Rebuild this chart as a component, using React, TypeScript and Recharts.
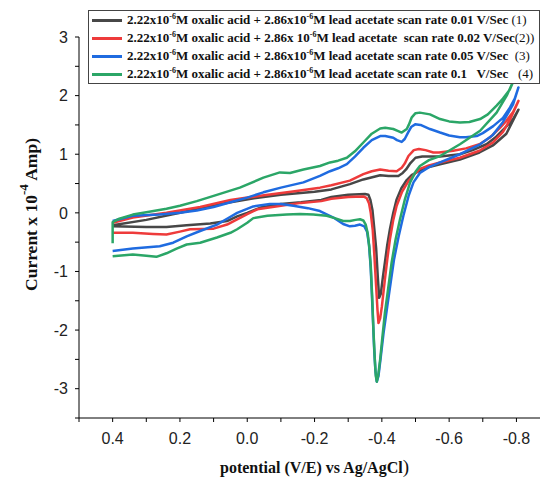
import React from 'react';
import { LineChart, Line, XAxis, YAxis, Legend, Label } from 'recharts';

// Series 1: scan rate 0.01 V/Sec (forward sweep 0.4 -> -0.8, then return)
const potential1 = [0.4, 0.3, 0.24, 0.18, 0.11, 0.06, 0.03, 0.0, -0.04, -0.1, -0.16, -0.22, -0.25, -0.3, -0.35, -0.36, -0.366, -0.372, -0.378, -0.383, -0.388, -0.392, -0.397, -0.403, -0.409, -0.416, -0.424, -0.434, -0.444, -0.458, -0.474, -0.49, -0.513, -0.54, -0.573, -0.632, -0.69, -0.73, -0.77, -0.806,
  -0.79, -0.771, -0.74, -0.711, -0.67, -0.632, -0.573, -0.52, -0.5, -0.485, -0.472, -0.462, -0.449, -0.42, -0.395, -0.345, -0.305, -0.25, -0.2, -0.1, -0.02, 0.08, 0.2, 0.3, 0.4];
const current1 = [-0.23, -0.24, -0.24, -0.21, -0.18, -0.14, -0.06, 0.0, 0.09, 0.15, 0.18, 0.22, 0.27, 0.31, 0.32, 0.31, 0.22, 0.05, -0.3, -0.6, -1.1, -1.45, -1.38, -1.1, -0.85, -0.55, -0.28, 0.0, 0.23, 0.42, 0.56, 0.65, 0.72, 0.78, 0.83, 0.91, 1.03, 1.15, 1.35, 1.76,
  1.6, 1.48, 1.3, 1.17, 1.07, 1.0, 0.96, 0.96, 0.94, 0.85, 0.74, 0.68, 0.63, 0.63, 0.64, 0.57, 0.49, 0.4, 0.36, 0.31, 0.25, 0.15, 0.0, -0.12, -0.21];

// Series 2: scan rate 0.02 V/Sec
const potential2 = [0.4, 0.34, 0.28, 0.24, 0.2, 0.17, 0.1, 0.06, 0.03, 0.0, -0.03, -0.1, -0.16, -0.22, -0.25, -0.3, -0.345, -0.355, -0.362, -0.367, -0.373, -0.378, -0.383, -0.387, -0.39, -0.395, -0.4, -0.409, -0.416, -0.424, -0.434, -0.444, -0.46, -0.479, -0.5, -0.513, -0.54, -0.573, -0.632, -0.69, -0.73, -0.76, -0.78, -0.806,
  -0.79, -0.77, -0.751, -0.72, -0.69, -0.65, -0.612, -0.57, -0.553, -0.53, -0.51, -0.495, -0.479, -0.468, -0.459, -0.444, -0.42, -0.395, -0.37, -0.345, -0.305, -0.25, -0.216, -0.13, -0.05, 0.05, 0.14, 0.24, 0.34, 0.4];
const current2 = [-0.34, -0.34, -0.36, -0.37, -0.32, -0.28, -0.27, -0.2, -0.11, -0.02, 0.06, 0.12, 0.17, 0.2, 0.24, 0.27, 0.28, 0.25, 0.16, 0.0, -0.3, -0.75, -1.25, -1.65, -1.88, -1.8, -1.6, -1.14, -0.8, -0.45, -0.12, 0.12, 0.36, 0.54, 0.68, 0.75, 0.81, 0.86, 0.94, 1.06, 1.2, 1.38, 1.58, 1.91,
  1.72, 1.57, 1.45, 1.28, 1.17, 1.1, 1.06, 1.03, 1.03, 1.07, 1.09, 1.07, 0.97, 0.84, 0.77, 0.71, 0.72, 0.74, 0.71, 0.66, 0.55, 0.47, 0.43, 0.36, 0.3, 0.22, 0.1, 0.0, -0.08, -0.17];

// Series 3: scan rate 0.05 V/Sec
const potential3 = [0.4, 0.34, 0.26, 0.22, 0.18, 0.14, 0.09, 0.06, 0.03, -0.018, -0.067, -0.1, -0.137, -0.18, -0.216, -0.256, -0.285, -0.305, -0.32, -0.335, -0.348, -0.356, -0.362, -0.367, -0.372, -0.377, -0.381, -0.385, -0.39, -0.397, -0.405, -0.416, -0.426, -0.436, -0.45, -0.464, -0.48, -0.494, -0.513, -0.54, -0.573, -0.632, -0.692, -0.73, -0.76, -0.79, -0.806,
  -0.795, -0.781, -0.76, -0.731, -0.7, -0.682, -0.65, -0.632, -0.6, -0.573, -0.543, -0.515, -0.499, -0.488, -0.479, -0.468, -0.459, -0.445, -0.434, -0.41, -0.395, -0.37, -0.345, -0.32, -0.296, -0.27, -0.246, -0.216, -0.167, -0.1, -0.048, 0.0, 0.05, 0.1, 0.15, 0.2, 0.26, 0.34, 0.4];
const current3 = [-0.65, -0.61, -0.57, -0.51, -0.4, -0.31, -0.2, -0.1, 0.0, 0.11, 0.15, 0.15, 0.12, 0.08, 0.03, -0.08, -0.19, -0.23, -0.22, -0.2, -0.23, -0.32, -0.55, -0.95, -1.6, -2.3, -2.7, -2.88, -2.78, -2.45, -2.05, -1.6, -1.2, -0.8, -0.4, -0.05, 0.3, 0.52, 0.68, 0.78, 0.86, 1.0, 1.17, 1.33, 1.55, 1.85, 2.14,
  1.95, 1.8, 1.62, 1.48, 1.36, 1.31, 1.29, 1.29, 1.32, 1.37, 1.43, 1.5, 1.51, 1.47, 1.38, 1.26, 1.21, 1.24, 1.28, 1.31, 1.31, 1.24, 1.11, 0.96, 0.83, 0.76, 0.71, 0.63, 0.52, 0.43, 0.35, 0.26, 0.18, 0.1, 0.04, 0.0, -0.03, -0.05, -0.14];

// Series 4: scan rate 0.1 V/Sec
const potential4 = [0.4, 0.34, 0.3, 0.27, 0.24, 0.21, 0.18, 0.14, 0.09, 0.05, 0.03, 0.0, -0.018, -0.06, -0.117, -0.157, -0.196, -0.236, -0.26, -0.285, -0.305, -0.322, -0.335, -0.345, -0.352, -0.358, -0.363, -0.367, -0.371, -0.375, -0.379, -0.382, -0.385, -0.389, -0.395, -0.402, -0.409, -0.419, -0.429, -0.441, -0.454, -0.468, -0.484, -0.5, -0.513, -0.54, -0.573, -0.632, -0.692, -0.741, -0.771, -0.795,
  -0.78, -0.76, -0.741, -0.715, -0.692, -0.66, -0.632, -0.6, -0.573, -0.543, -0.513, -0.5, -0.489, -0.48, -0.474, -0.459, -0.447, -0.434, -0.41, -0.395, -0.37, -0.345, -0.32, -0.296, -0.27, -0.246, -0.216, -0.167, -0.127, -0.097, -0.048, 0.022, 0.1, 0.15, 0.2, 0.24, 0.3, 0.34, 0.38, 0.4, 0.4];
const current4 = [-0.74, -0.71, -0.73, -0.75, -0.69, -0.61, -0.54, -0.51, -0.42, -0.34, -0.28, -0.17, -0.09, -0.05, -0.03, -0.02, -0.03, -0.05, -0.09, -0.14, -0.14, -0.12, -0.11, -0.13, -0.2, -0.35, -0.6, -0.9, -1.4, -2.0, -2.5, -2.78, -2.88, -2.78, -2.5, -2.1, -1.71, -1.28, -0.85, -0.45, -0.11, 0.22, 0.52, 0.7, 0.8, 0.9, 0.97, 1.17, 1.4, 1.71, 2.0, 2.3,
  2.1, 1.95, 1.83, 1.68, 1.6, 1.55, 1.54, 1.56, 1.6, 1.68, 1.71, 1.7, 1.63, 1.5, 1.43, 1.37, 1.4, 1.43, 1.45, 1.44, 1.35, 1.2, 1.05, 0.94, 0.89, 0.86, 0.8, 0.74, 0.68, 0.69, 0.6, 0.43, 0.29, 0.2, 0.12, 0.07, 0.01, -0.03, -0.1, -0.16, -0.52];

const xTicks = [0.5, 0.4, 0.3, 0.2, 0.1, 0.0, -0.1, -0.2, -0.3, -0.4, -0.5, -0.6, -0.7, -0.8];
const yTicks = [-3.5, -3, -2.5, -2, -1.5, -1, -0.5, 0, 0.5, 1, 1.5, 2, 2.5, 3];

const seriesLabels = [
  '2.22x10^{-6}M oxalic acid + 2.86x10^{-6}M lead acetate scan rate 0.01 V/Sec',
  '2.22x10^{-6}M oxalic acid + 2.86x 10^{-6}M lead acetate  scan rate 0.02 V/Sec',
  '2.22x10^{-6}M oxalic acid + 2.86x10^{-6}M lead acetate scan rate 0.05 V/Sec',
  '2.22x10^{-6}M oxalic acid + 2.86x10^{-6}M lead acetate scan rate 0.1   V/Sec',
];
const seriesSuffixes = [' (1)', '(2))', '  (3)', '   (4)'];
const seriesColors = ['#474747', '#ee3b3b', '#1f6be0', '#2ba667'];

const zip = (xs: number[], ys: number[]) => xs.map((x, i) => ({ x, y: ys[i] }));
const seriesData = [
  zip(potential1, current1),
  zip(potential2, current2),
  zip(potential3, current3),
  zip(potential4, current4),
];

const renderSup = (text: string) => {
  const parts = text.split(/\^\{([^}]*)\}/);
  return parts.map((p, i) =>
    i % 2 === 1 ? (
      <span key={i} style={{ fontSize: 8, position: 'relative', top: -5 }}>{p}</span>
    ) : (
      <span key={i}>{p}</span>
    )
  );
};

const renderLegend = () => (
  <div
    style={{
      border: '1px solid #444',
      background: '#fff',
      width: 450,
      height: 72,
      fontFamily: '"Liberation Serif", "Times New Roman", serif',
      fontSize: 13,
      color: '#111',
    }}
  >
    {seriesLabels.map((lab, i) => (
      <div key={i} style={{ display: 'flex', alignItems: 'center', height: 18, whiteSpace: 'pre' }}>
        <span style={{ display: 'inline-block', width: 30, height: 3, background: seriesColors[i], marginLeft: 3, marginRight: 5 }} />
        <span style={{ fontWeight: 'bold' }}>{renderSup(lab)}</span>
        <span>{seriesSuffixes[i]}</span>
      </div>
    ))}
  </div>
);

const xTickFormat = (v: number) => (Math.round(v * 10) % 2 === 0 ? v.toFixed(1) : '');
const yTickFormat = (v: number) => (Number.isInteger(v) ? String(v) : '');

const YTitle = (props: any) => {
  const vb = props.viewBox || { x: 19, y: 37, width: 60, height: 381 };
  const cx = vb.x + 12;
  const cy = vb.y + vb.height / 2 - 13;
  return (
    <text
      x={cx}
      y={cy}
      transform={`rotate(-90, ${cx}, ${cy})`}
      textAnchor="middle"
      dominantBaseline="central"
      fontFamily='"Liberation Serif", "Times New Roman", serif'
      fontWeight="bold"
      fontSize={17.5}
      fill="#111"
    >
      <tspan>Current x 10</tspan>
      <tspan fontSize={13} dy={-8}>-4</tspan>
      <tspan dy={8}> Amp)</tspan>
    </text>
  );
};

const XTitle = (props: any) => {
  const vb = props.viewBox || { x: 79, y: 418, width: 461, height: 40 };
  const cx = vb.x + vb.width / 2 + 5;
  const by = vb.y + 55;
  return (
    <text
      x={cx}
      y={by}
      textAnchor="middle"
      fontFamily='"Liberation Serif", "Times New Roman", serif'
      fontWeight="bold"
      fontSize={16}
      fill="#111"
    >
      <tspan>potential (V/E) vs Ag/AgCl</tspan>
      <tspan fontWeight="normal" fontSize={19}>)</tspan>
    </text>
  );
};

export default function App() {
  return (
    <div style={{ position: 'absolute', left: 0, top: 0, width: 542, height: 477, background: '#fff' }}>
      <LineChart width={542} height={477} margin={{ top: 37, right: 2, bottom: 19, left: 19 }}>
        <XAxis
          type="number"
          dataKey="x"
          domain={[-0.87, 0.5]}
          reversed
          allowDataOverflow
          ticks={xTicks}
          tickFormatter={xTickFormat}
          interval={0}
          height={40}
          tickSize={4}
          tickMargin={11}
          stroke="#000"
          tick={{ fill: '#222', fontSize: 16, fontFamily: '"Liberation Sans", Arial, sans-serif' }}
        >
          <Label content={<XTitle />} />
        </XAxis>
        <YAxis
          type="number"
          domain={[-3.5, 3]}
          allowDataOverflow
          ticks={yTicks}
          tickFormatter={yTickFormat}
          interval={0}
          width={60}
          tickSize={4}
          tickMargin={7}
          stroke="#000"
          tick={{ fill: '#222', fontSize: 16, fontFamily: '"Liberation Sans", Arial, sans-serif' }}
        >
          <Label content={<YTitle />} />
        </YAxis>
        <Legend
          layout="vertical"
          align="center"
          verticalAlign="middle"
          wrapperStyle={{ top: 10, left: 88, width: 452 }}
          content={renderLegend}
        />
        {seriesData.map((d, i) => (
          <Line
            key={i}
            data={d}
            dataKey="y"
            name={seriesLabels[i]}
            type="linear"
            stroke={seriesColors[i]}
            strokeWidth={2.5}
            strokeLinejoin="round"
            dot={false}
            activeDot={false}
            isAnimationActive={false}
          />
        ))}
      </LineChart>
    </div>
  );
}
